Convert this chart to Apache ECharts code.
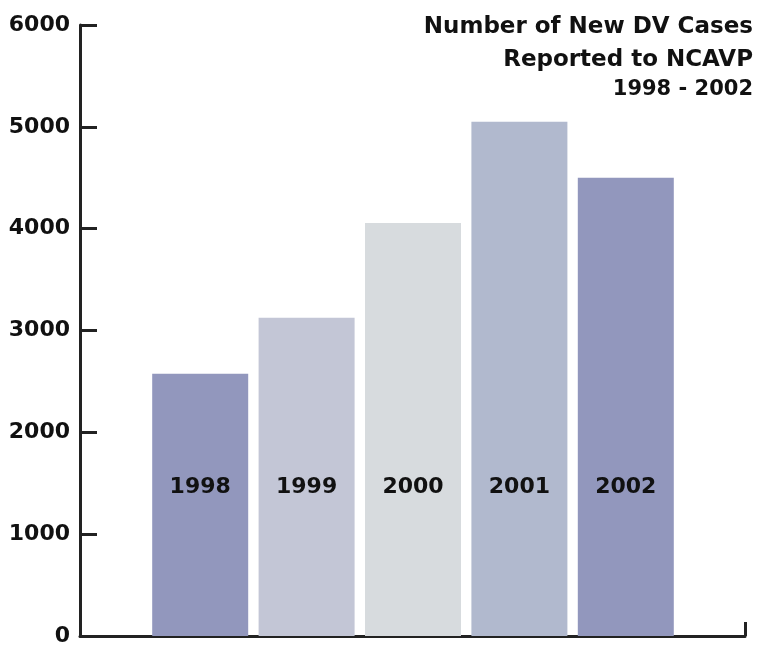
<!DOCTYPE html>
<html>
<head>
<meta charset="utf-8">
<script src="https://cdn.jsdelivr.net/npm/echarts@6/dist/echarts.min.js"></script>
<style>html,body{margin:0;padding:0;background:#fff}#c{width:758px;height:648px}</style>
</head>
<body>
<div id="c"></div>
<script>
const categories = ['1998', '1999', '2000', '2001', '2002'];
const cases = [2575, 3125, 4055, 5050, 4500];
const barColors = ['#9297bd', '#c3c6d6', '#d7dbde', '#b1b9ce', '#9297bd'];
const yTicks = { min: 0, max: 6000, interval: 1000 };
const titleLines = ['Number of New DV Cases', 'Reported to NCAVP', '1998 - 2002'];

const FONT = 'DejaVu Sans';
const titleTops = [16, 49, 79];
const titleSizes = [23, 23, 21];
const chart = echarts.init(document.getElementById('c'), null, { renderer: 'canvas' });
chart.setOption({
  backgroundColor: '#fff',
  animation: false,
  title: titleLines.map((t, i) => ({
    text: t, right: 5, top: titleTops[i], padding: 0,
    textStyle: { fontFamily: FONT, fontWeight: 'bold', fontSize: titleSizes[i], color: '#111' }
  })),
  grid: [
    { left: 80, right: 13, top: 25, bottom: 12 },
    { left: 147, right: 79, top: 25, bottom: 12 }
  ],
  xAxis: [
    { type: 'category', gridIndex: 0, data: [''], boundaryGap: true,
      axisLine: { lineStyle: { color: '#222', width: 3 } },
      axisTick: { show: true, inside: true, length: 14, lineStyle: { color: '#222', width: 3 } },
      axisLabel: { show: false }, splitLine: { show: false } },
    { type: 'category', gridIndex: 1, data: categories,
      axisLine: { show: false }, axisTick: { show: false }, axisLabel: { show: false } }
  ],
  yAxis: [
    { type: 'value', gridIndex: 0, min: yTicks.min, max: yTicks.max, interval: yTicks.interval,
      axisLine: { show: true, lineStyle: { color: '#222', width: 3 } },
      axisTick: { show: true, inside: true, length: 17, lineStyle: { color: '#222', width: 3 } },
      axisLabel: { margin: 10, fontFamily: FONT, fontWeight: 'bold', fontSize: 22, color: '#111',
        formatter: v => String(v) },
      splitLine: { show: false } },
    { type: 'value', gridIndex: 1, min: yTicks.min, max: yTicks.max, interval: yTicks.interval, show: false }
  ],
  series: [{
    type: 'bar',
    xAxisIndex: 1, yAxisIndex: 1,
    barWidth: 96,
    z: 5,
    data: cases.map((v, i) => ({ value: v, itemStyle: { color: barColors[i] } })),
    label: {
      show: true, position: 'insideBottom', distance: 138,
      formatter: p => p.name,
      fontFamily: FONT, fontWeight: 'bold', fontSize: 22, color: '#111'
    }
  }]
});
</script>
</body>
</html>
